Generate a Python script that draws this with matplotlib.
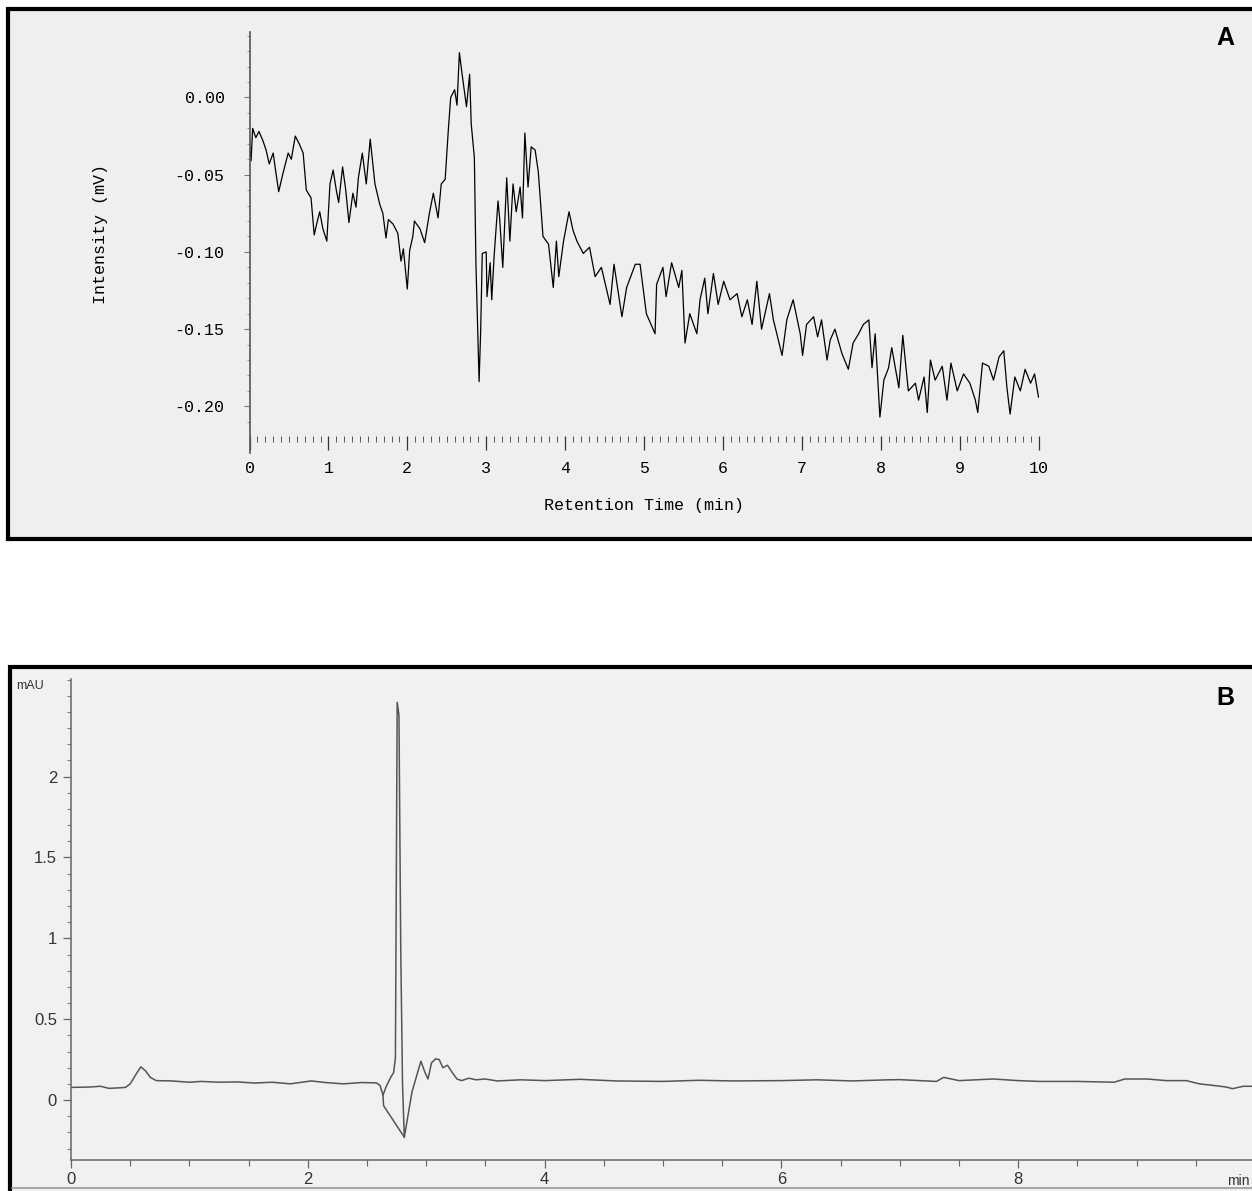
import matplotlib
matplotlib.use("Agg")
import matplotlib.pyplot as plt
from matplotlib.patches import Rectangle
from matplotlib.lines import Line2D
from matplotlib.ticker import MultipleLocator, FixedLocator, FixedFormatter

plt.rcParams['axes.unicode_minus'] = False

# ---------------- Panel A data (retention time min, intensity mV) ----------------
tA = [0.00, 0.02, 0.04, 0.08, 0.12, 0.17, 0.21, 0.25, 0.30, 0.33, 0.37, 0.42, 0.49, 0.53, 0.58,
      0.63, 0.68, 0.72, 0.78, 0.82, 0.86, 0.89, 0.93, 0.98, 1.02, 1.06, 1.10, 1.13, 1.18, 1.22,
      1.26, 1.31, 1.35, 1.38, 1.43, 1.48, 1.53, 1.59, 1.65, 1.69, 1.73, 1.76, 1.82, 1.88, 1.92,
      1.95, 2.00, 2.03, 2.07, 2.09, 2.16, 2.22, 2.28, 2.33, 2.39, 2.43, 2.48, 2.52, 2.55, 2.60,
      2.63, 2.66, 2.70, 2.75, 2.79, 2.81, 2.85, 2.87, 2.91, 2.93, 2.95, 3.00, 3.01, 3.05, 3.07,
      3.10, 3.15, 3.17, 3.21, 3.26, 3.30, 3.34, 3.38, 3.43, 3.46, 3.49, 3.53, 3.57, 3.62, 3.66,
      3.72, 3.79, 3.85, 3.89, 3.92, 3.98, 4.05, 4.10, 4.15, 4.23, 4.31, 4.38, 4.46, 4.57, 4.62,
      4.72, 4.78, 4.89, 4.95, 5.03, 5.14, 5.16, 5.24, 5.28, 5.35, 5.44, 5.48, 5.52, 5.58, 5.67,
      5.71, 5.77, 5.81, 5.88, 5.94, 6.01, 6.09, 6.18, 6.24, 6.31, 6.37, 6.43, 6.49, 6.59, 6.64,
      6.75, 6.81, 6.89, 6.98, 7.01, 7.06, 7.15, 7.20, 7.25, 7.32, 7.36, 7.42, 7.51, 7.59, 7.65,
      7.72, 7.78, 7.85, 7.89, 7.93, 7.99, 8.04, 8.10, 8.14, 8.23, 8.28, 8.35, 8.44, 8.48, 8.55,
      8.59, 8.63, 8.69, 8.78, 8.84, 8.89, 8.97, 9.05, 9.13, 9.20, 9.23, 9.29, 9.37, 9.43, 9.50,
      9.56, 9.60, 9.64, 9.70, 9.77, 9.83, 9.90, 9.95, 10.00]
intensityA = [-0.030, -0.041, -0.020, -0.026, -0.022, -0.028, -0.034, -0.043, -0.036, -0.047,
              -0.061, -0.050, -0.036, -0.040, -0.025, -0.030, -0.036, -0.060, -0.065, -0.089,
              -0.080, -0.074, -0.085, -0.093, -0.056, -0.047, -0.060, -0.068, -0.045, -0.060,
              -0.081, -0.062, -0.071, -0.052, -0.036, -0.056, -0.027, -0.056, -0.069, -0.075,
              -0.091, -0.079, -0.082, -0.088, -0.106, -0.098, -0.124, -0.099, -0.090, -0.080,
              -0.085, -0.094, -0.075, -0.062, -0.078, -0.056, -0.053, -0.021, 0.000, 0.005,
              -0.005, 0.029, 0.013, -0.006, 0.015, -0.017, -0.039, -0.108, -0.184, -0.151,
              -0.101, -0.100, -0.129, -0.107, -0.131, -0.103, -0.067, -0.078, -0.110, -0.052,
              -0.093, -0.056, -0.074, -0.058, -0.078, -0.023, -0.058, -0.032, -0.034, -0.048,
              -0.090, -0.095, -0.123, -0.093, -0.116, -0.093, -0.074, -0.086, -0.093, -0.101,
              -0.097, -0.116, -0.110, -0.134, -0.108, -0.142, -0.123, -0.108, -0.108, -0.140,
              -0.153, -0.121, -0.110, -0.129, -0.107, -0.123, -0.112, -0.159, -0.140, -0.153,
              -0.131, -0.117, -0.140, -0.114, -0.134, -0.119, -0.131, -0.127, -0.142, -0.131,
              -0.147, -0.119, -0.150, -0.127, -0.144, -0.167, -0.144, -0.131, -0.153, -0.167,
              -0.147, -0.142, -0.155, -0.144, -0.170, -0.157, -0.150, -0.166, -0.176, -0.159,
              -0.153, -0.147, -0.144, -0.175, -0.153, -0.207, -0.183, -0.175, -0.162, -0.188,
              -0.154, -0.190, -0.185, -0.196, -0.181, -0.204, -0.170, -0.183, -0.174, -0.196,
              -0.172, -0.190, -0.179, -0.185, -0.196, -0.204, -0.172, -0.174, -0.183, -0.168,
              -0.164, -0.188, -0.205, -0.181, -0.190, -0.176, -0.185, -0.179, -0.194]
yticksA = [-0.20, -0.15, -0.10, -0.05, 0.00]
yticklabelsA = ["-0.20", "-0.15", "-0.10", "-0.05", "0.00"]
xticksA = [0, 1, 2, 3, 4, 5, 6, 7, 8, 9, 10]

# ---------------- Panel B data (retention time min, absorbance mAU) ----------------
tB = [0.00, 0.15, 0.25, 0.32, 0.40, 0.46, 0.50, 0.55, 0.59, 0.63, 0.67, 0.72, 0.85, 1.00,
      1.10, 1.25, 1.40, 1.55, 1.70, 1.85, 1.95, 2.03, 2.15, 2.30, 2.45, 2.58, 2.61, 2.635,
      2.66, 2.70, 2.725, 2.74, 2.755, 2.77, 2.785, 2.80, 2.815, 2.88, 2.955, 2.99, 3.015,
      3.045, 3.08, 3.11, 3.14, 3.18, 3.22, 3.26, 3.30, 3.36, 3.42, 3.50, 3.60, 3.80, 4.00,
      4.30, 4.60, 5.00, 5.30, 5.60, 6.00, 6.30, 6.60, 6.90, 7.00, 7.31, 7.37, 7.50, 7.79,
      8.00, 8.18, 8.50, 8.81, 8.90, 9.09, 9.25, 9.42, 9.53, 9.65, 9.76, 9.81, 9.90, 10.00]
absB = [0.078, 0.080, 0.085, 0.072, 0.075, 0.078, 0.100, 0.160, 0.205, 0.180, 0.140, 0.120,
        0.118, 0.110, 0.115, 0.110, 0.112, 0.105, 0.110, 0.100, 0.110, 0.118, 0.108, 0.100,
        0.108, 0.106, 0.090, 0.030, 0.080, 0.140, 0.170, 0.260, 2.460, 2.380, 0.930, 0.100,
        -0.230, 0.050, 0.240, 0.170, 0.130, 0.230, 0.255, 0.250, 0.200, 0.215, 0.170, 0.130,
        0.120, 0.135, 0.125, 0.130, 0.118, 0.125, 0.120, 0.128, 0.118, 0.115, 0.122, 0.118,
        0.120, 0.125, 0.118, 0.125, 0.126, 0.115, 0.140, 0.120, 0.130, 0.120, 0.115, 0.115,
        0.110, 0.130, 0.130, 0.120, 0.120, 0.100, 0.090, 0.080, 0.070, 0.085, 0.085]
# secondary drop line under the big peak
tB_drop = [2.635, 2.64, 2.815]
absB_drop = [0.030, -0.035, -0.230]
yticksB = [0, 0.5, 1, 1.5, 2]
yticklabelsB = ["0", "0.5", "1", "1.5", "2"]
xticksB = [0, 2, 4, 6, 8]

W, H = 1252, 1191
fig = plt.figure(figsize=(W / 100, H / 100), dpi=100)
fig.patch.set_facecolor("white")

def fx(px):
    return px / W

def fy(py):
    return (H - py) / H

# panel backgrounds + frames
fig.add_artist(Rectangle((fx(8), fy(539)), 1.05, fy(9) - fy(539), transform=fig.transFigure,
                         facecolor="#efefef", edgecolor="black", linewidth=3.0, zorder=0))
fig.add_artist(Rectangle((fx(10), fy(1200)), 1.05, fy(667) - fy(1200), transform=fig.transFigure,
                         facecolor="#f1f1f1", edgecolor="black", linewidth=3.0, zorder=0))
fig.add_artist(Line2D([fx(12), 1.0], [fy(1188), fy(1188)], transform=fig.transFigure,
                      color="#9a9a9a", linewidth=1.2, zorder=1))

# ---------------- Panel A ----------------
mono = "Liberation Mono"
axA = fig.add_axes([fx(249.5), fy(436), fx(1038.5) - fx(249.5), fy(32) - fy(436)])
axA.set_facecolor("none")
axA.plot(tA, intensityA, color="black", linewidth=0.9)
axA.set_xlim(0, 10)
axA.set_ylim(-0.2192, 0.0424)
for s in ["top", "right", "bottom"]:
    axA.spines[s].set_visible(False)
axA.spines["left"].set_color("#555555")
axA.spines["left"].set_linewidth(1.2)
axA.spines["left"].set_bounds(-0.230, 0.0424)
axA.xaxis.set_major_locator(FixedLocator(xticksA))
axA.xaxis.set_minor_locator(MultipleLocator(0.1))
axA.yaxis.set_major_locator(FixedLocator(yticksA))
axA.yaxis.set_major_formatter(FixedFormatter(yticklabelsA))
axA.yaxis.set_minor_locator(MultipleLocator(0.01))
axA.tick_params(axis="x", which="major", direction="out", length=10, width=0.9,
                color="#333333", pad=8, labelsize=12)
axA.tick_params(axis="x", which="minor", direction="out", length=4, width=0.7, color="#555555")
axA.tick_params(axis="y", which="major", direction="out", length=4, width=0.8,
                color="#777777", pad=14, labelsize=12)
axA.tick_params(axis="y", which="minor", direction="out", length=2.5, width=0.6, color="#888888")
for lab in axA.get_xticklabels() + axA.get_yticklabels():
    lab.set_fontfamily(mono)
axA.set_xlabel("Retention Time (min)", fontfamily=mono, fontsize=12, labelpad=16)
axA.set_ylabel("Intensity (mV)", fontfamily=mono, fontsize=12, labelpad=48)
fig.text(fx(1225), fy(38), "A", fontsize=18, fontweight="bold", family="Liberation Sans",
         ha="center", va="center")

# ---------------- Panel B ----------------
sans = "Liberation Sans"
axB = fig.add_axes([fx(71), fy(1160), fx(1255) - fx(71), fy(679) - fy(1160)])
axB.set_facecolor("none")
axB.plot(tB, absB, color="#555555", linewidth=1.1)
axB.plot(tB_drop, absB_drop, color="#555555", linewidth=1.1)
axB.set_xlim(0, 10)
axB.set_ylim(-0.371, 2.604)
for s in ["top", "right"]:
    axB.spines[s].set_visible(False)
for s in ["left", "bottom"]:
    axB.spines[s].set_color("#666666")
    axB.spines[s].set_linewidth(1.1)
axB.xaxis.set_major_locator(FixedLocator(xticksB))
axB.xaxis.set_minor_locator(MultipleLocator(0.5))
axB.yaxis.set_major_locator(FixedLocator(yticksB))
axB.yaxis.set_major_formatter(FixedFormatter(yticklabelsB))
axB.yaxis.set_minor_locator(MultipleLocator(0.1))
axB.tick_params(axis="x", which="major", direction="out", length=6, width=0.9,
                color="#666666", pad=3, labelsize=12)
axB.tick_params(axis="x", which="minor", direction="out", length=4, width=0.8, color="#666666")
axB.tick_params(axis="y", which="major", direction="out", length=6, width=0.9,
                color="#666666", pad=4, labelsize=12)
axB.tick_params(axis="y", which="minor", direction="out", length=3, width=0.7, color="#777777")
for lab in axB.get_xticklabels() + axB.get_yticklabels():
    lab.set_fontfamily(sans)
    lab.set_color("#333333")
fig.text(fx(16), fy(686), "mAU", fontsize=9, family=sans, color="#333333",
         ha="left", va="center")
fig.text(fx(1250), fy(1181), "min", fontsize=10, family=sans, color="#333333",
         ha="right", va="center")
fig.text(fx(1225), fy(698), "B", fontsize=18, fontweight="bold", family=sans,
         ha="center", va="center")

fig.savefig("out.png", dpi=100)
